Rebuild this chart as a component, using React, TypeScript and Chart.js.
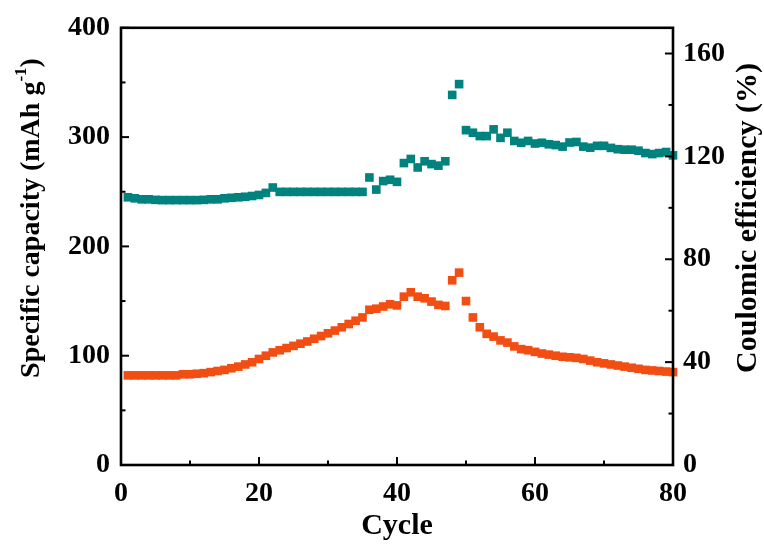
import { useEffect, useRef } from "react";
import { Chart, registerables } from "chart.js";

Chart.register(...registerables);

// Cycle number for every measured point
const cycles = [
  1, 2, 3, 4, 5, 6, 7, 8, 9, 10,
  11, 12, 13, 14, 15, 16, 17, 18, 19, 20,
  21, 22, 23, 24, 25, 26, 27, 28, 29, 30,
  31, 32, 33, 34, 35, 36, 37, 38, 39, 40,
  41, 42, 43, 44, 45, 46, 47, 48, 49, 50,
  51, 52, 53, 54, 55, 56, 57, 58, 59, 60,
  61, 62, 63, 64, 65, 66, 67, 68, 69, 70,
  71, 72, 73, 74, 75, 76, 77, 78, 79, 80,
];

// Specific capacity, mAh g-1 (left axis)
const capacity = [
  82, 82, 82, 82, 82, 82, 82, 82, 83, 83,
  83.5, 84, 85, 86, 87, 88.5, 90, 92, 94, 97,
  100, 103, 105, 107, 109, 111, 113, 115.5, 118, 120.5,
  123, 126, 129, 132, 135, 142, 143, 145, 147, 146,
  154, 158, 154, 152.5, 149.5, 146.5, 145.5, 169, 176, 150,
  135, 126, 120, 117.5, 114, 112, 108.5, 106, 105, 103.5,
  102, 101, 100, 99, 98.5, 98, 97, 95.5, 94, 93,
  92, 91, 90, 89, 88, 87, 86.5, 86, 85.5, 85,
];

// Coulombic efficiency, % (right axis)
const efficiency = [
  104.1, 103.7, 103.3, 103.3, 103.1, 103.0, 103.0, 103.0, 103.0, 103.0,
  103.0, 103.1, 103.3, 103.3, 103.7, 103.9, 104.1, 104.3, 104.6, 105.0,
  105.8, 107.9, 106.2, 106.2, 106.2, 106.2, 106.2, 106.2, 106.2, 106.2,
  106.2, 106.2, 106.2, 106.2, 106.2, 111.8, 107.1, 110.4, 110.9, 110.1,
  117.4, 119.0, 115.7, 118.1, 117.0, 116.4, 118.1, 143.9, 148.1, 130.2,
  129.2, 127.9, 127.9, 130.5, 127.2, 129.2, 126.0, 125.3, 126.0, 125.0,
  125.3, 124.7, 124.4, 123.8, 125.4, 125.6, 123.8, 123.4, 124.1, 124.1,
  123.3, 122.8, 122.6, 122.6, 122.2, 121.3, 120.9, 121.3, 121.7, 120.4,
];

const cycleTicks = [0, 20, 40, 60, 80];
const cycleMinorTicks = [10, 30, 50, 70];
const capacityTicks = [0, 100, 200, 300, 400];
const capacityMinorTicks = [50, 150, 250, 350];
const efficiencyTicks = [0, 40, 80, 120, 160];
const efficiencyMinorTicks = [20, 60, 100, 140];

const xTitle = "Cycle";
const leftTitle = "Specific capacity (mAh g";
const leftTitleSup = "-1";
const leftTitleEnd = ")";
const rightTitle = "Coulomic efficiency (%)";

const FONT_FAMILY = '"Liberation Serif", "Times New Roman", serif';
const ORANGE = "#F24E13";
const TEAL = "#00827E";

// Box frame with inward major/minor ticks on bottom, left and right
const framePlugin = {
  id: "frameTicks",
  afterDatasetsDraw(chart: any) {
    const { ctx, chartArea: a, scales } = chart;
    ctx.save();
    ctx.strokeStyle = "#000";
    ctx.lineCap = "butt";
    ctx.lineWidth = 2;
    const seg = (x1: number, y1: number, x2: number, y2: number) => {
      ctx.beginPath();
      ctx.moveTo(x1, y1);
      ctx.lineTo(x2, y2);
      ctx.stroke();
    };
    const MAJOR = 8;
    const MINOR = 4.5;
    cycleTicks.forEach((v) => {
      const p = scales.x.getPixelForValue(v);
      seg(p, a.bottom, p, a.bottom - MAJOR);
    });
    cycleMinorTicks.forEach((v) => {
      const p = scales.x.getPixelForValue(v);
      seg(p, a.bottom, p, a.bottom - MINOR);
    });
    capacityTicks.forEach((v) => {
      const p = scales.y.getPixelForValue(v);
      seg(a.left, p, a.left + MAJOR, p);
    });
    capacityMinorTicks.forEach((v) => {
      const p = scales.y.getPixelForValue(v);
      seg(a.left, p, a.left + MINOR, p);
    });
    efficiencyTicks.forEach((v) => {
      const p = scales.y1.getPixelForValue(v);
      seg(a.right, p, a.right - MAJOR, p);
    });
    efficiencyMinorTicks.forEach((v) => {
      const p = scales.y1.getPixelForValue(v);
      seg(a.right, p, a.right - MINOR, p);
    });
    ctx.lineWidth = 2.6;
    ctx.strokeRect(a.left, a.top, a.right - a.left, a.bottom - a.top);
    ctx.restore();
  },
};

// Axis titles (left title carries a superscript)
const titlePlugin = {
  id: "axisTitles",
  afterDraw(chart: any) {
    const { ctx, chartArea: a } = chart;
    const mainFont = `bold 28px ${FONT_FAMILY}`;
    const bigFont = `bold 30px ${FONT_FAMILY}`;
    const supFont = `bold 17px ${FONT_FAMILY}`;
    ctx.save();
    ctx.fillStyle = "#000";
    ctx.textBaseline = "middle";

    // bottom
    ctx.font = bigFont;
    ctx.textAlign = "center";
    ctx.fillText(xTitle, (a.left + a.right) / 2, 526);

    // left, rotated
    ctx.save();
    ctx.translate(32, 218);
    ctx.rotate(-Math.PI / 2);
    ctx.font = mainFont;
    const w1 = ctx.measureText(leftTitle).width;
    const w3 = ctx.measureText(leftTitleEnd).width;
    ctx.font = supFont;
    const w2 = ctx.measureText(leftTitleSup).width;
    let x = -(w1 + w2 + w3) / 2;
    ctx.textAlign = "left";
    ctx.font = mainFont;
    ctx.fillText(leftTitle, x, 0);
    x += w1;
    ctx.font = supFont;
    ctx.fillText(leftTitleSup, x, -10);
    x += w2;
    ctx.font = mainFont;
    ctx.fillText(leftTitleEnd, x, 0);
    ctx.restore();

    // right, rotated
    ctx.save();
    ctx.translate(748, 218);
    ctx.rotate(-Math.PI / 2);
    ctx.font = bigFont;
    ctx.textAlign = "center";
    ctx.fillText(rightTitle, 0, 0);
    ctx.restore();

    ctx.restore();
  },
};

export default function App() {
  const canvasRef = useRef<HTMLCanvasElement | null>(null);

  useEffect(() => {
    document.body.style.margin = "0";
    const canvas = canvasRef.current;
    if (!canvas) return;

    const tickFont = { family: FONT_FAMILY, size: 28, weight: "bold" as const };

    const chart = new Chart(canvas, {
      type: "scatter",
      data: {
        datasets: [
          {
            label: "Coulombic efficiency",
            data: cycles.map((c, i) => ({ x: c, y: efficiency[i] })),
            yAxisID: "y1",
            pointStyle: "rect",
            pointRadius: 6.1,
            pointBorderWidth: 0,
            backgroundColor: TEAL,
            borderColor: TEAL,
            showLine: false,
            clip: false as any,
          },
          {
            label: "Specific capacity",
            data: cycles.map((c, i) => ({ x: c, y: capacity[i] })),
            yAxisID: "y",
            pointStyle: "rect",
            pointRadius: 6.1,
            pointBorderWidth: 0,
            backgroundColor: ORANGE,
            borderColor: ORANGE,
            showLine: false,
            clip: false as any,
          },
        ],
      },
      options: {
        animation: false,
        responsive: false,
        events: [],
        layout: { padding: { top: 22, left: 0, right: 0, bottom: 0 } },
        plugins: {
          legend: { display: false },
          tooltip: { enabled: false },
        },
        scales: {
          x: {
            type: "linear",
            position: "bottom",
            min: 0,
            max: 80,
            grid: { display: false, drawTicks: false },
            border: { display: false },
            ticks: { font: tickFont, color: "#000", padding: 12, maxRotation: 0 },
            afterBuildTicks: (s: any) => {
              s.ticks = cycleTicks.map((v) => ({ value: v }));
            },
            afterFit: (s: any) => {
              s.height = 80;
            },
          },
          y: {
            type: "linear",
            position: "left",
            min: 0,
            max: 400,
            grid: { display: false, drawTicks: false },
            border: { display: false },
            ticks: { font: tickFont, color: "#000", padding: 11 },
            afterBuildTicks: (s: any) => {
              s.ticks = capacityTicks.map((v) => ({ value: v }));
            },
            afterFit: (s: any) => {
              s.width = 121;
            },
          },
          y1: {
            type: "linear",
            position: "right",
            min: 0,
            max: 170,
            grid: { display: false, drawTicks: false },
            border: { display: false },
            ticks: { font: tickFont, color: "#000", padding: 10 },
            afterBuildTicks: (s: any) => {
              s.ticks = efficiencyTicks.map((v) => ({ value: v }));
            },
            afterFit: (s: any) => {
              s.width = 91;
            },
          },
        },
      },
      plugins: [framePlugin, titlePlugin],
    } as any);

    return () => chart.destroy();
  }, []);

  return (
    <div style={{ width: 764, height: 545, background: "#fff" }}>
      <canvas ref={canvasRef} width={764} height={545} />
    </div>
  );
}
